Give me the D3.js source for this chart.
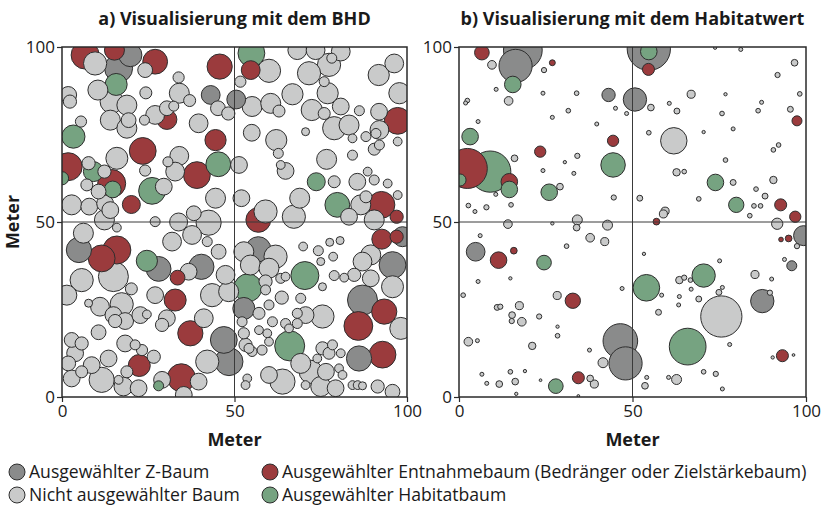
<!DOCTYPE html>
<html>
<head>
<meta charset="utf-8">
<script src="https://cdn.jsdelivr.net/npm/d3@7"></script>
<style>
  body { margin: 0; background: #fff; }
  svg { font-family: "Open Sans", "Noto Sans", sans-serif; }
</style>
</head>
<body>
<svg id="chart" width="822" height="508"></svg>
<script>
// tree categories
var typeKeys = ["z", "n", "e", "h"]
var typeColors = { z: "#8a8b8b", n: "#c9caca", e: "#9b3b3d", h: "#76a381" }
var legendLabels = {
	z: "Ausgewählter Z-Baum",
	n: "Nicht ausgewählter Baum",
	e: "Ausgewählter Entnahmebaum (Bedränger oder Zielstärkebaum)",
	h: "Ausgewählter Habitatbaum"
}
var tickValues = [0, 50, 100]

// panel a: [x (m), y (m), BHD (cm)]
var bhdZ = [[19.8,97.7,58],[16.4,93.9,70],[43.1,86.3,47],[50.5,85.0,47],[4.9,42.0,63],[28.0,36.6,62],[40.4,37.2,63],[46.9,16.3,67],[48.4,10.1,70],[98.7,45.8,50],[56.9,42.2,63],[95.8,37.7,67],[52.7,25.3,55],[87.1,27.7,75],[86.1,11.0,63]]
var bhdE = [[6.7,97.7,70],[15.2,99.1,50],[27.0,95.8,62],[45.7,94.4,63],[30.4,79.3,50],[44.5,73.4,53],[23.4,70.3,67],[1.8,65.8,70],[39.1,63.4,67],[14.4,61.0,70],[20.1,55.0,45],[54.7,93.4,47],[97.3,78.9,67],[92.6,54.9,67],[97.0,51.5,33],[56.9,50.6,62],[15.9,42.0,70],[11.5,39.6,67],[33.5,34.1,37],[32.8,27.7,55],[37.2,18.2,63],[22.4,9.0,55],[34.6,5.5,70],[92.7,45.1,50],[97.0,45.8,33],[93.4,24.4,63],[85.9,20.3,72],[92.9,12.1,67]]
var bhdH = [[15.7,89.3,55],[3.3,74.4,58],[9.1,64.4,50],[45.3,66.5,62],[14.7,59.3,42],[26.1,58.9,67],[0,62.5,33],[54.9,98.2,67],[73.7,61.5,45],[79.8,54.9,62],[24.6,38.9,53],[28.0,3.2,25],[70.4,34.7,70],[53.9,31.2,70],[66.0,14.6,75]]
var bhdN = [
	[9.6,95.3,58],[24.1,93.4,37],[10.4,87.7,50],[33.8,91.3,28],[24.3,86.9,30],[34.0,86.8,50],[37.0,84.7,30],[45.2,82.5,37],[48.2,81.0,33],[1.8,86.3,42],[2.3,84.4,33],[14.4,84.4,58],[18.8,83.4,50],[14.0,79.1,50],[19.3,79.1,37],[18.8,76.8,50],[23.9,79.1,25],[27.0,80.6,47],[30.4,82.5,37],[32.4,83.1,25],[39.6,78.2,47],[5.5,78.7,28],[15.9,68.2,55],[34.0,68.9,47],[30.7,67.2,25],[24.1,64.7,28],[32.8,64.4,47],[7.7,66.8,33],[12.3,64.4,33],[7.2,60.6,30],[10.6,58.7,37],[29.5,60.1,42],[44.5,56.8,50],[2.8,54.9,50],[7.9,54.4,42],[12.5,55.3,42],[12.3,50.6,50],[14.0,53.4,42],[27.0,50.1,25],[33.8,50.0,45],[38.2,52.5,37],[42.5,49.8,63],
	[60.0,93.2,58],[68.2,99.1,47],[73.5,99.1,47],[77.4,94.9,58],[78.2,96.8,25],[80.8,98.7,47],[71.6,92.5,58],[76.0,90.1,25],[91.8,92.0,53],[96.3,95.3,47],[51.7,90.1,28],[55.1,83.0,50],[60.5,83.9,50],[62.9,81.7,30],[66.8,86.5,53],[77.0,86.8,53],[72.4,82.0,53],[76.0,81.0,30],[80.8,83.0,42],[86.2,81.8,25],[91.9,81.5,42],[97.8,86.8,53],[78.9,76.8,58],[83.2,77.7,50],[84.2,73.9,22],[88.1,74.4,25],[92.0,76.3,47],[91.0,75.3,25],[90.5,70.8,30],[92.0,72.0,25],[97.3,73.0,22],[55.0,75.5,42],[70.6,75.8,20],[62.1,73.4,53],[62.7,69.6,25],[76.7,67.9,50],[84.2,69.1,25],[51.3,66.3,42],[63.4,66.3,22],[64.8,64.6,42],[88.6,64.4,22],[78.9,61.5,30],[85.6,61.5,42],[90.5,62.0,25],[94.4,61.0,22],[68.9,56.8,50],[52.0,56.8,42],[59.0,53.0,58],[67.2,51.5,58],[86.6,54.9,50],[88.1,57.2,30],[97.3,57.7,22],[90.5,50.6,50],
	[15.9,48.4,22],[6.2,46.8,50],[14.9,34.4,75],[5.7,33.4,58],[1.4,29.1,50],[20.1,30.9,30],[31.9,44.4,47],[37.7,46.3,47],[42.1,44.4,25],[45.4,41.5,37],[36.7,35.8,42],[27.0,29.1,42],[43.5,29.1,58],[47.4,34.9,47],[7.7,26.8,20],[11.0,25.8,47],[17.3,26.5,58],[14.9,23.4,42],[18.3,21.7,42],[15.4,21.7,33],[22.7,23.4,42],[24.6,23.6,22],[29.0,20.6,33],[30.4,22.5,42],[41.1,22.5,47],[10.6,18.5,37],[42.1,10.1,58],[2.8,16.3,37],[5.7,15.3,33],[3.8,12.5,42],[1.8,9.6,37],[8.6,9.1,42],[5.7,7.2,30],[2.8,5.3,42],[11.5,4.9,63],[18.3,15.3,42],[13.5,11.0,42],[16.4,4.9,22],[21.2,14.9,25],[23.2,13.4,28],[26.6,11.5,33],[18.8,7.2,30],[29.0,4.9,42],[39.6,4.4,42],[17.8,3.0,47],[22.2,2.5,42],[35.3,0.6,42],
	[83.2,51.5,42],[52.7,41.5,50],[61.9,40.1,58],[54.6,37.7,50],[60.0,36.8,50],[69.9,43.0,22],[74.3,41.8,25],[77.6,44.2,20],[80.6,44.7,20],[75.0,38.7,20],[78.6,40.1,22],[89.5,40.6,50],[87.1,38.7,47],[78.9,34.7,25],[81.8,34.1,22],[84.7,34.9,33],[89.5,33.9,42],[95.8,31.5,55],[59.0,33.0,33],[63.4,33.9,25],[64.8,34.4,22],[48.3,30.1,50],[59.0,30.6,25],[63.7,28.4,33],[69.2,28.2,25],[75.5,31.5,20],[98.2,19.6,55],[75.5,23.0,58],[70.6,23.4,42],[68.2,23.9,25],[68.2,21.0,25],[60.0,26.3,25],[57.1,23.9,30],[61.0,21.5,25],[52.2,21.5,25],[57.1,19.1,22],[64.8,21.0,25],[65.8,19.6,22],[59.5,18.2,22],[52.7,18.2,28],[53.2,14.9,33],[55.1,13.0,25],[54.2,13.9,25],[58.0,13.4,25],[60.0,15.8,22],[75.5,13.9,33],[77.4,12.5,30],[78.4,14.9,25],[74.0,11.0,22],[80.8,12.5,22],[69.2,9.6,50],[72.1,7.2,58],[76.5,7.2,42],[80.3,8.2,22],[81.3,6.3,22],[63.9,4.4,63],[60.0,6.3,42],[53.7,5.3,22],[53.2,3.4,22],[70.6,3.4,22],[75.0,3.0,50],[79.3,2.5,42],[84.2,3.4,22],[85.7,3.4,22],[87.1,3.2,20],[91.5,3.0,33],[95.8,1.5,37]
]

// panel b: [x (m), y (m), Habitatwert]
var habZ = [[18.4,99.1,60],[16.3,94.6,44],[43.1,86.3,7.1],[50.7,85.0,21.8],[54.7,99.5,75],[4.8,41.5,14],[46.5,16.0,48],[48.0,9.6,44],[99.3,46.1,16],[95.9,37.5,4],[87.4,27.4,21.8]]
var habE = [[6.6,98.4,8.6],[26.9,95.5,1.4],[54.6,93.6,5.8],[44.4,73.2,5.1],[23.4,70.1,5.1],[2.4,65.3,64],[14.5,61.5,11],[97.4,78.9,4],[92.7,54.9,5.8],[96.9,51.5,5.1],[56.9,50.1,1.8],[11.4,39.1,11],[15.8,41.8,1.8],[32.8,27.5,9.4],[34.4,5.5,5.8],[92.8,45.0,0.87],[95.0,45.3,1.8],[93.2,11.8,5.8]]
var habH = [[15.5,89.3,11],[3.2,74.4,11],[9.0,64.4,68],[44.4,66.3,24],[14.5,59.3,11],[26.0,58.5,11],[0.3,62.0,5.8],[54.7,98.7,11],[73.9,61.3,11],[79.9,54.9,9.4],[24.5,38.4,8.6],[27.9,3.1,8.6],[70.5,34.7,21.8],[54.0,31.2,28.4],[65.9,14.4,54]]
var habN = [
	[9.5,94.9,3],[24.5,93.4,1.1],[10.7,87.9,0.64],[14.3,84.6,3],[2.4,84.7,0.87],[1.9,84.0,0.64],[24.2,86.8,0.64],[33.9,86.8,0.87],[45.1,82.5,0.64],[48.3,81.0,0.64],[31.5,81.8,0.87],[26.9,79.9,0.64],[39.7,78.0,0.64],[5.5,78.7,0.64],[16.0,68.2,1.8],[34.1,68.9,1.1],[30.5,67.1,0.44],[24.2,64.7,0.64],[33.1,63.9,0.64],[44.6,57.0,1.1],[29.1,60.1,1.8],[10.6,57.9,0.64],[15.0,54.9,0.87],[2.7,54.7,0.87],[4.6,53.0,0.64],[7.9,54.2,1.1],
	[14.1,49.4,3],[26.9,49.6,0.44],[34.1,50.6,4],[33.9,48.4,1.8],[42.8,49.1,4],[6.1,46.1,0.64],[37.8,45.5,3],[42.0,44.4,2.6],[31.0,43.1,0.87],[14.8,33.9,0.44],[5.5,33.0,0.64],[1.2,29.1,0.87],[28.3,29.0,2.6],[47.0,31.0,0.64],[11.0,25.6,1.4],[11.9,25.8,1.1],[17.4,26.1,2.6],[15.3,23.4,1.8],[15.2,21.7,1.1],[18.1,21.5,3],[23.1,23.0,1.1],[28.4,20.1,0.44],[28.4,17.5,0.87],[2.7,15.8,3],[5.3,16.1,0.64],[21.1,14.6,2.2],[37.6,13.4,0.64],[41.5,9.8,4],[6.6,6.5,0.64],[8.0,3.9,0.64],[11.6,3.7,1.8],[14.8,7.2,0.87],[16.2,4.4,1.8],[19.0,7.4,0.44],[23.5,4.8,0.3],[16.5,0.9,0.44],[37.8,5.3,1.8],[39.0,3.7,2.6],[34.4,0.3,0.3],
	[96.7,95.5,1.8],[91.8,92.0,1.1],[66.9,86.5,2.6],[76.8,86.5,0.44],[98.2,86.6,0.87],[60.6,83.9,0.64],[87.2,84.2,0.64],[55.3,82.7,1.8],[62.8,81.7,1.4],[75.8,81.0,0.87],[86.2,81.8,0.87],[95.5,82.2,1.4],[54.7,75.5,0.87],[70.5,75.7,0.44],[79.0,76.6,0.64],[61.9,73.2,28],[92.1,72.0,0.87],[90.6,70.6,0.87],[76.8,67.7,0.87],[62.7,64.2,2.2],[64.9,64.4,0.87],[79.0,61.3,1.4],[85.6,59.4,0.87],[90.6,62.0,2.2],[52.1,56.8,1.4],[69.1,56.6,0.87],[88.2,57.4,1.4],[85.0,54.6,0.87],[86.9,54.6,0.87],[83.8,51.8,0.87],[59.4,53.1,2.6],[58.9,52.3,2.6],[91.7,49.5,5.1],[73.8,99.8,0.44],[81.2,99.3,0.64],
	[97.4,43.1,1.1],[53.3,40.9,0.44],[75.1,38.9,0.64],[93.8,39.3,0.64],[85.3,35.0,2.6],[90.1,33.7,0.64],[63.5,33.4,2.2],[64.9,34.1,1.1],[66.7,33.4,0.87],[66.9,30.8,0.64],[75.9,31.3,0.64],[74.9,29.9,1.4],[58.4,29.1,0.64],[63.5,28.7,0.64],[63.3,26.3,0.64],[69.1,28.0,1.4],[89.6,29.8,1.1],[57.5,24.2,1.4],[75.6,23.0,68],[78.0,15.0,0.64],[90.4,11.3,0.44],[96.4,12.0,0.3],[70.5,7.2,0.87],[74.0,6.6,1.1],[54.1,5.6,0.64],[60.4,5.6,0.64],[62.7,5.0,4],[53.6,3.2,1.8],[75.9,2.3,0.64]
]

var svg = d3.select("#chart")
var plotTop = 47, plotBottom = 397

// joins the per type arrays into one list, biggest first so small trees stay visible
function buildTrees(byType){
	var out = []
	typeKeys.forEach(function(k){
		byType[k].forEach(function(d){ out.push({x: d[0], y: d[1], v: d[2], type: k}) })
	})
	out.sort(function(a, b){ return b.v - a.v })
	return out
}

function drawPanel(id, left, right, title, trees, rScale){
	var x = d3.scaleLinear().domain([0, 100]).range([left, right])
	var y = d3.scaleLinear().domain([0, 100]).range([plotBottom, plotTop])
	var g = svg.append("g")

	g.append("clipPath").attr("id", "clip-" + id)
		.append("rect")
		.attr("x", left).attr("y", plotTop)
		.attr("width", right - left).attr("height", plotBottom - plotTop)

	g.append("g")
		.attr("clip-path", "url(#clip-" + id + ")")
		.selectAll("circle")
		.data(trees)
		.enter()
		.append("circle")
		.attr("cx", d => x(d.x))
		.attr("cy", d => y(d.y))
		.attr("r", d => rScale(d.v))
		.attr("fill", d => typeColors[d.type])
		.attr("stroke", "#2e2e2e")
		.attr("stroke-width", 1)

	// cross lines at 50 m
	g.append("line")
		.attr("x1", x(50)).attr("x2", x(50))
		.attr("y1", plotTop).attr("y2", plotBottom)
		.attr("stroke", "#3a3a3a").attr("stroke-width", 1)
	g.append("line")
		.attr("x1", left).attr("x2", right)
		.attr("y1", y(50)).attr("y2", y(50))
		.attr("stroke", "#3a3a3a").attr("stroke-width", 1)

	g.append("rect")
		.attr("x", left).attr("y", plotTop)
		.attr("width", right - left).attr("height", plotBottom - plotTop)
		.attr("fill", "none")
		.attr("stroke", "#2a2a2a").attr("stroke-width", 1.5)

	var xAxis = g.append("g")
		.attr("transform", "translate(0," + plotBottom + ")")
		.call(d3.axisBottom(x).tickValues(tickValues).tickSize(5).tickPadding(3))
	var yAxis = g.append("g")
		.attr("transform", "translate(" + left + ",0)")
		.call(d3.axisLeft(y).tickValues(tickValues).tickSize(5).tickPadding(2))
	;[xAxis, yAxis].forEach(function(a){
		a.select(".domain").remove()
		a.selectAll("line").attr("stroke", "#2a2a2a").attr("stroke-width", 1.2)
		a.selectAll("text")
			.attr("fill", "#1a1a1a")
			.style("font-size", "17px")
			.style("font-family", "'Open Sans', sans-serif")
	})
	yAxis.selectAll("text").attr("dy", "0.35em")

	g.append("text")
		.attr("x", x(50)).attr("y", 25)
		.attr("text-anchor", "middle")
		.style("font-size", "18px").style("font-weight", "bold")
		.attr("fill", "#1a1a1a")
		.text(title)

	g.append("text")
		.attr("x", x(50)).attr("y", 446)
		.attr("text-anchor", "middle")
		.style("font-size", "18px").style("font-weight", "bold")
		.attr("fill", "#1a1a1a")
		.text("Meter")
}

var bhdScale = d3.scaleLinear().domain([0, 100]).range([0, 20])
var habScale = d3.scaleSqrt().domain([0, 100]).range([0, 25])

drawPanel("a", 62, 407, "a) Visualisierung mit dem BHD",
	buildTrees({z: bhdZ, n: bhdN, e: bhdE, h: bhdH}), bhdScale)
drawPanel("b", 459, 806, "b) Visualisierung mit dem Habitatwert",
	buildTrees({z: habZ, n: habN, e: habE, h: habH}), habScale)

svg.append("text")
	.attr("transform", "translate(19," + ((plotTop + plotBottom) / 2) + ") rotate(-90)")
	.attr("text-anchor", "middle")
	.style("font-size", "18px").style("font-weight", "bold")
	.attr("fill", "#1a1a1a")
	.text("Meter")

// legend, two rows of two
var legendPos = [
	{k: "z", x: 17, y: 472},
	{k: "e", x: 270, y: 472},
	{k: "n", x: 17, y: 495},
	{k: "h", x: 270, y: 495}
]
var leg = svg.append("g").selectAll("g")
	.data(legendPos)
	.enter()
	.append("g")
	.attr("transform", d => "translate(" + d.x + "," + d.y + ")")
leg.append("circle")
	.attr("r", 8)
	.attr("fill", d => typeColors[d.k])
	.attr("stroke", "#2e2e2e").attr("stroke-width", 1)
leg.append("text")
	.attr("x", 12)
	.attr("dy", "0.35em")
	.style("font-size", "17.6px")
	.attr("fill", "#1a1a1a")
	.text(d => legendLabels[d.k])
</script>
</body>
</html>
